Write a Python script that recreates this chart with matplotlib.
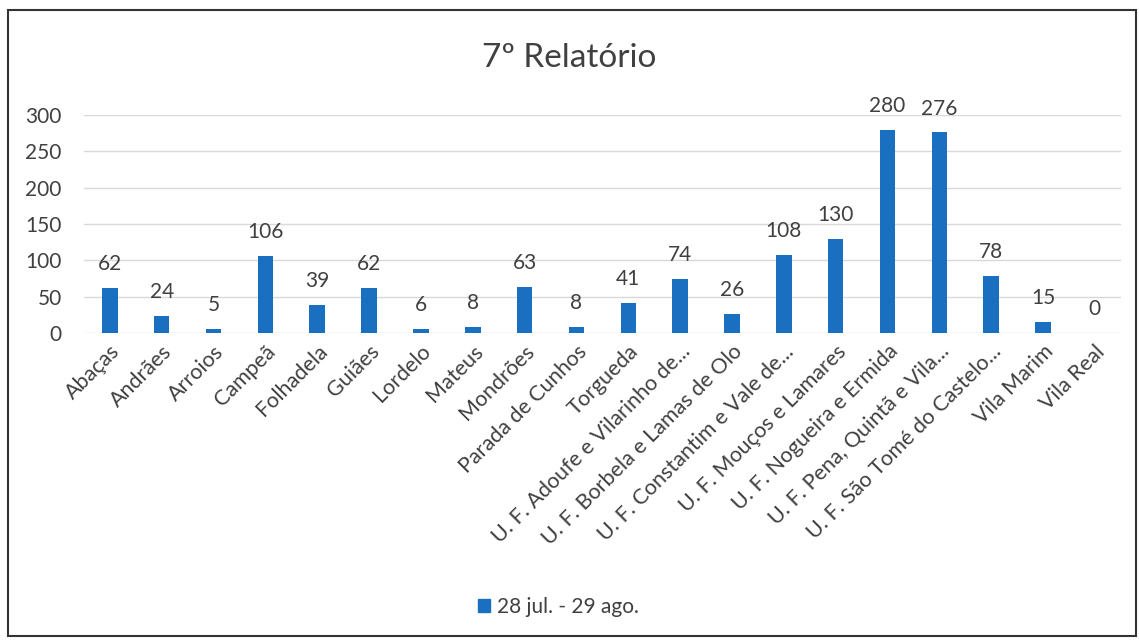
import matplotlib
matplotlib.use("Agg")
import matplotlib.pyplot as plt
from matplotlib.patches import Rectangle, Patch

categories = ["Abaças", "Andrães", "Arroios", "Campeã", "Folhadela", "Guiães",
              "Lordelo", "Mateus", "Mondrões", "Parada de Cunhos", "Torgueda",
              "U. F. Adoufe e Vilarinho de...", "U. F. Borbela e Lamas de Olo",
              "U. F. Constantim e Vale de...", "U. F. Mouços e Lamares",
              "U. F. Nogueira e Ermida", "U. F. Pena, Quintã e Vila...",
              "U. F. São Tomé do Castelo...", "Vila Marim", "Vila Real"]
values = [62, 24, 5, 106, 39, 62, 6, 8, 63, 8, 41, 74, 26, 108, 130, 280, 276, 78, 15, 0]
series_name = "28 jul. - 29 ago."
title = "7º Relatório"
yticks = [0, 50, 100, 150, 200, 250, 300]

plt.rcParams['font.family'] = ['Lato', 'DejaVu Sans']
bar_color = "#1b6fc0"
text_color = "#404040"

fig = plt.figure(figsize=(11.39, 6.4), dpi=100)
ax = fig.add_axes([0.0737, 0.4797, 0.9103, 0.3406])
x = list(range(len(categories)))
bars = ax.bar(x, values, width=0.3, color=bar_color, zorder=3, label=series_name)
for xi, v in zip(x, values):
    ax.annotate(str(v), (xi, v), xytext=(0, 10), textcoords='offset points',
                ha='center', va='bottom', fontsize=15, color=text_color,
                annotation_clip=False)

ax.set_ylim(0, 300)
ax.set_xlim(-0.5, len(categories) - 0.5)
ax.set_yticks(yticks)
ax.set_yticklabels([str(t) for t in yticks], fontsize=15, color=text_color)
ax.set_xticks(x)
ax.set_xticklabels(categories, rotation=45, ha='right', rotation_mode='anchor',
                   fontsize=15.5, color=text_color)
for lbl in ax.get_xticklabels():
    lbl.set_x(lbl.get_position()[0])
ax.tick_params(axis='y', length=0, pad=16)
ax.tick_params(axis='x', length=0, pad=6)
ax.grid(axis='y', color='#d9d9d9', linewidth=1, zorder=0)
for s in ax.spines.values():
    s.set_visible(False)

fig.text(0.5, 0.91, title, ha='center', va='center', fontsize=24, color=text_color)

fig.legend(handles=[Patch(color=bar_color)], labels=[series_name],
           loc='center', bbox_to_anchor=(0.49, 0.052), frameon=False,
           fontsize=15, handlelength=0.6, handleheight=0.6, handletextpad=0.3,
           labelcolor=text_color)

fig.patches.append(Rectangle((0.007, 0.006), 0.990, 0.978, transform=fig.transFigure,
                             fill=False, edgecolor='#333333', linewidth=1.5))

fig.savefig("out.png", dpi=100)
